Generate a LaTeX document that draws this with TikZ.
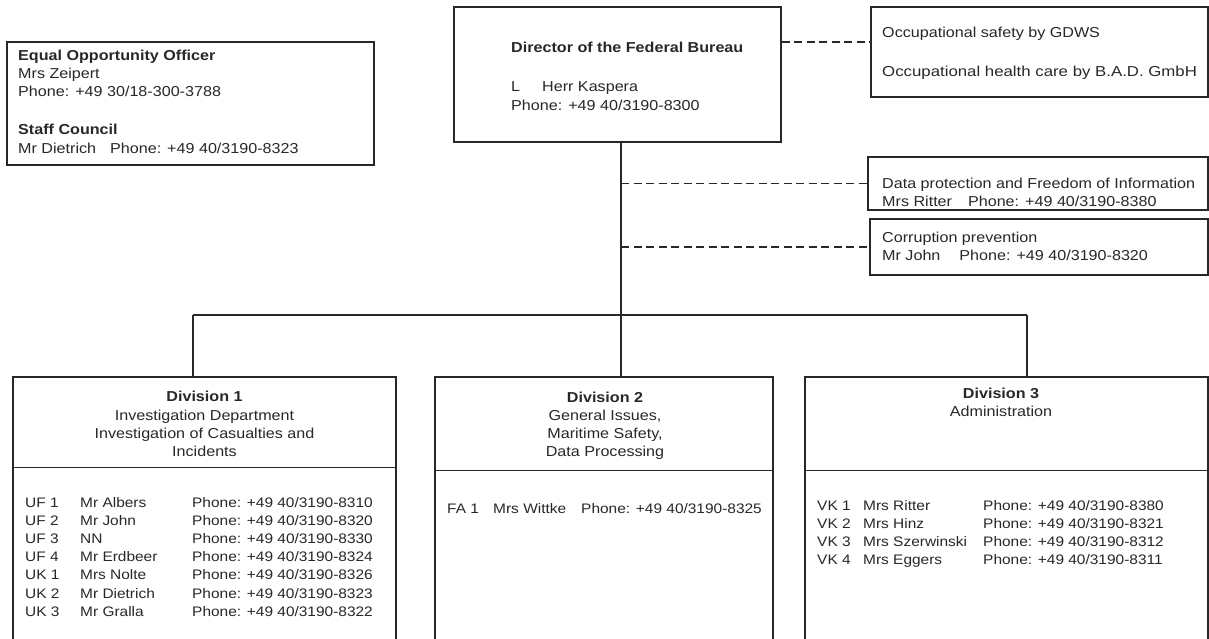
\documentclass[tikz,border=0pt]{standalone}
\usepackage{graphicx}
\usepackage{fontspec}
\setmainfont{Liberation Sans}[FakeStretch=1.12]
\definecolor{ink}{RGB}{40,40,40}

\begin{document}
\begin{tikzpicture}[x=1pt, y=-1pt,
    box/.style={draw=ink, line width=1.4pt, inner sep=0pt},
    txt/.style={inner sep=0pt, anchor=base west, text=ink,
                font=\fontsize{14.4}{18.3}\selectfont},
    ctxt/.style={txt, anchor=base},
    listtxt/.style={txt, font=\fontsize{13.8}{18.2}\selectfont},
    conn/.style={draw=ink, line width=1.4pt},
    dashline/.style={conn, line width=1.6pt, dash pattern=on 8pt off 4.5pt}
  ]
  \clip (0,0) rectangle (1209,638);
  \fill[white] (0,0) rectangle (1209,638);

  % Equal opportunity / staff council
  \node[box, minimum width=367pt, minimum height=123pt] (eq) at (190.5,103.5) {};
  \node[txt] (eqtxt) at (18,60) {\begin{tabular}[t]{@{}l@{}}
    \textbf{Equal Opportunity Officer}\\
    Mrs Zeipert\\
    Phone: +49 30/18-300-3788\\[20pt]
    \textbf{Staff Council}\\
    Mr Dietrich\hspace{14pt}Phone: +49 40/3190-8323
  \end{tabular}};

  % Director
  \node[box, minimum width=327pt, minimum height=135pt] (dir) at (617.5,74.5) {};
  \node[txt] (dirtxt) at (511,52.7) {\begin{tabular}[t]{@{}l@{}}
    \textbf{Director of the Federal Bureau}\\[20.7pt]
    L\hspace{22pt}Herr Kaspera\\
    Phone: +49 40/3190-8300
  \end{tabular}};
  \coordinate (tk) at ([xshift=3.5pt]dir.south);

  % Staff units on the right
  \node[box, minimum width=337pt, minimum height=90pt] (occ) at (1039.5,52) {};
  \node[txt] (occtxt) at (882,37.7) {\begin{tabular}[t]{@{}l@{}}
    Occupational safety by GDWS\\[20pt]
    \scalebox{1.042}[1]{Occupational health care by B.A.D. GmbH}
  \end{tabular}};
  \node[box, minimum width=340pt, minimum height=53pt] (dp) at (1038,183.5) {};
  \node[txt] (dptxt) at (882,188.3) {\begin{tabular}[t]{@{}l@{}}
    Data protection and Freedom of Information\\
    Mrs Ritter\hspace{16pt}Phone: +49 40/3190-8380
  \end{tabular}};
  \node[box, minimum width=338pt, minimum height=56pt] (cor) at (1039,247) {};
  \node[txt] (cortxt) at (882,242) {\begin{tabular}[t]{@{}l@{}}
    Corruption prevention\\
    Mr John\hspace{19pt}Phone: +49 40/3190-8320
  \end{tabular}};

  % Divisions
  \node[box, minimum width=383pt, minimum height=290pt] (d1) at (204.5,522) {};
  \node[box, minimum width=338pt, minimum height=290pt] (d2) at (604,522) {};
  \node[box, minimum width=403pt, minimum height=290pt] (d3) at (1006.5,522) {};
  \draw[conn] ([yshift=-91pt]d1.north west) -- ([yshift=-91pt]d1.north east);
  \draw[conn] ([yshift=-94pt]d2.north west) -- ([yshift=-94pt]d2.north east);
  \draw[conn] ([yshift=-94pt]d3.north west) -- ([yshift=-94pt]d3.north east);

  \node[ctxt] (h1) at (204.5,401.7) {\begin{tabular}[t]{@{}c@{}}
    \textbf{Division 1}\\
    Investigation Department\\
    Investigation of Casualties and\\
    Incidents
  \end{tabular}};
  \node[ctxt] (h2) at (605,402) {\begin{tabular}[t]{@{}c@{}}
    \textbf{Division 2}\\
    General Issues,\\
    Maritime Safety,\\
    Data Processing
  \end{tabular}};
  \node[ctxt] (h3) at (1001,398) {\begin{tabular}[t]{@{}c@{}}
    \textbf{Division 3}\\
    Administration
  \end{tabular}};

  \node[listtxt] (l1) at (25,507) {\begin{tabular}[t]{@{}p{55pt}@{}p{112pt}@{}l@{}}
    UF 1 & Mr Albers   & Phone: +49 40/3190-8310\\
    UF 2 & Mr John     & Phone: +49 40/3190-8320\\
    UF 3 & NN          & Phone: +49 40/3190-8330\\
    UF 4 & Mr Erdbeer  & Phone: +49 40/3190-8324\\
    UK 1 & Mrs Nolte   & Phone: +49 40/3190-8326\\
    UK 2 & Mr Dietrich & Phone: +49 40/3190-8323\\
    UK 3 & Mr Gralla   & Phone: +49 40/3190-8322
  \end{tabular}};
  \node[listtxt] (l2) at (447,513) {\begin{tabular}[t]{@{}p{46pt}@{}p{88pt}@{}l@{}}
    FA 1 & Mrs Wittke & Phone: +49 40/3190-8325
  \end{tabular}};
  \node[listtxt] (l3) at (817,510) {\begin{tabular}[t]{@{}p{46pt}@{}p{120pt}@{}l@{}}
    VK 1 & Mrs Ritter     & Phone: +49 40/3190-8380\\
    VK 2 & Mrs Hinz       & Phone: +49 40/3190-8321\\
    VK 3 & Mrs Szerwinski & Phone: +49 40/3190-8312\\
    VK 4 & Mrs Eggers     & Phone: +49 40/3190-8311
  \end{tabular}};

  % Connectors
  \coordinate (dj) at ([yshift=32.5pt]dir.east);
  \draw[dashline] (dj) -- (dj -| occ.west);
  \draw[dashline] (tk |- dp.west) -- (dp.west);
  \draw[dashline] (tk |- cor.west) -- (cor.west);
  \draw[conn] (tk) -- (tk |- d2.north);
  \coordinate (b1) at (193,315);
  \coordinate (b3) at (1027,315);
  \draw[conn] (b1) -- (b3);
  \draw[conn] (b1) -- (b1 |- d1.north);
  \draw[conn] (b3) -- (b3 |- d3.north);
\end{tikzpicture}
\end{document}
